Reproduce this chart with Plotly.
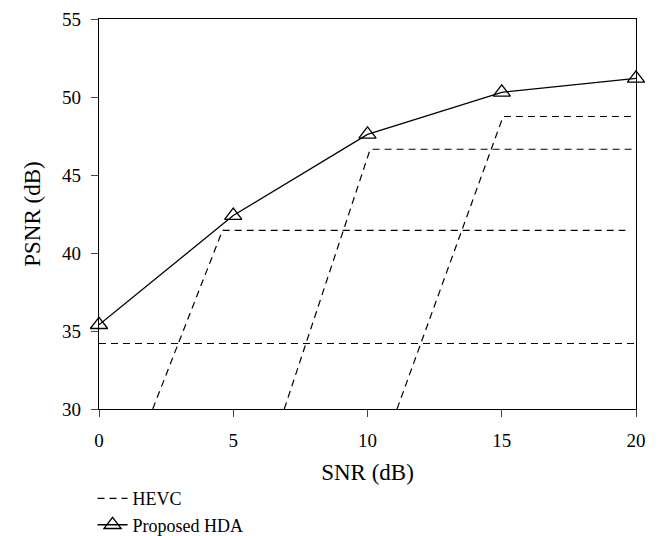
import plotly.graph_objects as go

# Proposed HDA
hda_snr = [0, 5, 10, 15, 20]
hda_psnr = [35.4, 42.4, 47.6, 50.3, 51.2]

# HEVC curves (cliff effect), each a list of (snr, psnr) vertices
hevc1_snr = [0, 20]
hevc1_psnr = [34.2, 34.2]
hevc2_snr = [2.0, 4.6, 19.6]
hevc2_psnr = [30, 41.45, 41.45]
hevc3_snr = [6.9, 10.1, 20]
hevc3_psnr = [30, 46.65, 46.65]
hevc4_snr = [11.1, 15.05, 20]
hevc4_psnr = [30, 48.75, 48.75]

x_ticks = [0, 5, 10, 15, 20]
y_ticks = [30, 35, 40, 45, 50, 55]

FONT = "Liberation Serif"
FS = 19
dash = "7px,5px"

fig = go.Figure()
hevc_sets = [(hevc1_snr, hevc1_psnr), (hevc2_snr, hevc2_psnr),
             (hevc3_snr, hevc3_psnr), (hevc4_snr, hevc4_psnr)]
for i, (xs, ys) in enumerate(hevc_sets):
    fig.add_trace(go.Scatter(
        x=xs, y=ys, mode="lines", name="HEVC",
        line=dict(color="black", width=1.2, dash=dash),
        showlegend=(i == 0), legendgroup="hevc", cliponaxis=False))

fig.add_trace(go.Scatter(
    x=hda_snr, y=hda_psnr, mode="lines+markers", name="Proposed HDA",
    line=dict(color="black", width=1.3),
    marker=dict(symbol="triangle-up-open", size=15, color="black",
                line=dict(width=1.3, color="black")),
    cliponaxis=False))

fig.update_layout(
    width=663, height=536,
    margin=dict(l=91, r=35, t=11, b=135, autoexpand=False),
    paper_bgcolor="white", plot_bgcolor="white",
    font=dict(family=FONT, size=FS, color="black"),
    showlegend=True,
    legend=dict(x=-0.012, y=-0.344, xanchor="left", yanchor="bottom",
                bgcolor="rgba(0,0,0,0)", font=dict(size=18, family=FONT),
                tracegroupgap=0, itemwidth=30),
)
fig.update_xaxes(
    range=[0, 20], tickvals=x_ticks, ticks="outside", ticklen=7,
    showline=True, mirror=True, linecolor="black", linewidth=1.3,
    showgrid=False, zeroline=False, automargin=False,
    ticklabelstandoff=7,
    title=dict(text="SNR (dB)", standoff=13),
    tickfont=dict(size=FS, family=FONT))
fig.update_yaxes(
    range=[30, 55], tickvals=y_ticks, ticks="outside", ticklen=7,
    showline=True, mirror=True, linecolor="black", linewidth=1.3,
    showgrid=False, zeroline=False, automargin=False,
    ticklabelstandoff=6,
    title=dict(text="PSNR (dB)", standoff=14),
    tickfont=dict(size=FS, family=FONT))

fig.write_html("out.html")
